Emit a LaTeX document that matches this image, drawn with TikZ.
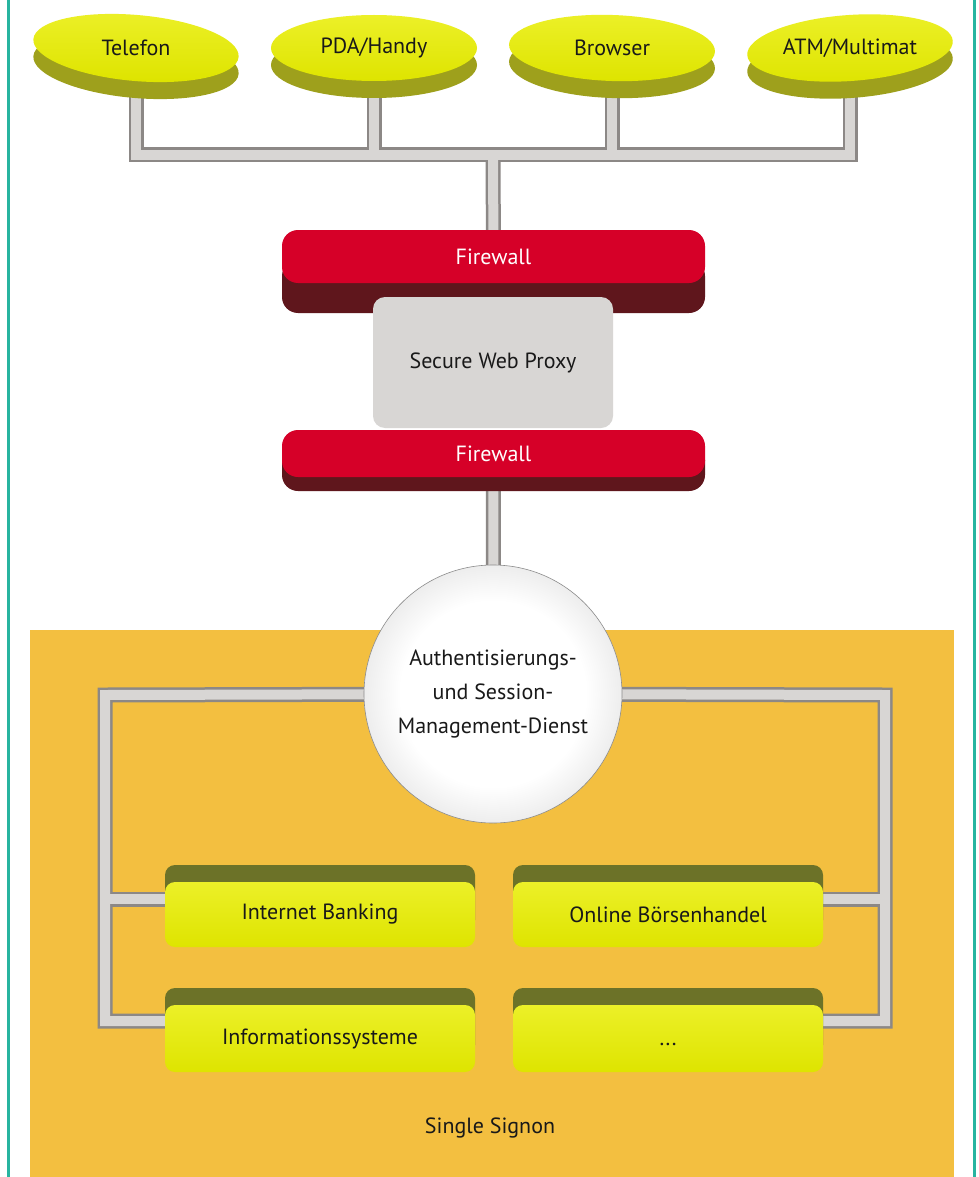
\documentclass[tikz,border=0pt]{standalone}
\usepackage{fontspec}
\setmainfont{PT Sans}
\usetikzlibrary{shapes.geometric,shadows}
\definecolor{teal1}{RGB}{40,180,160}
\definecolor{orangebg}{RGB}{243,191,64}
\definecolor{yel}{RGB}{222,228,0}
\definecolor{yelhi}{RGB}{236,240,40}
\definecolor{olive1}{RGB}{158,160,28}
\definecolor{olive2}{RGB}{108,114,40}
\definecolor{fwred}{RGB}{214,0,40}
\definecolor{fwdark}{RGB}{95,22,28}
\definecolor{proxyg}{RGB}{216,214,212}
\definecolor{pipedark}{RGB}{140,136,134}
\definecolor{pipelight}{RGB}{216,214,212}
\definecolor{txt}{RGB}{25,25,25}
\pgfdeclareradialshading{spheresh}{\pgfpoint{0bp}{0bp}}{color(0bp)=(white); color(18bp)=(white); color(40bp)=(black!22); color(50bp)=(black!50)}
\pgfdeclarelayer{bg}
\pgfdeclarelayer{pipes}
\pgfsetlayers{bg,pipes,main}
\tikzset{
  lbl/.style={text=txt, font=\fontsize{22}{34}\selectfont},
  device/.style={ellipse, minimum width=206, minimum height=66, inner sep=0,
    top color=yelhi, bottom color=yel,
    general shadow={fill=olive1, shadow yshift=-17pt}},
  fwall/.style={rectangle, rounded corners=16, minimum width=423, inner sep=0,
    fill=fwred, text=white, font=\fontsize{22}{34}\selectfont},
  proxybox/.style={rectangle, rounded corners=12, minimum width=240, minimum height=131,
    fill=proxyg, lbl},
  sphere/.style={circle, minimum size=258, inner sep=0, shading=spheresh,
    draw=black!45, line width=0.6pt, align=center, lbl},
  app/.style={rectangle, rounded corners=10, minimum width=310, inner sep=0,
    top color=yelhi, bottom color=yel, lbl,
    general shadow={fill=olive2, shadow yshift=17pt, xscale=0.985}},
}
\begin{document}
\begin{tikzpicture}[x=1pt,y=-1pt]
\useasboundingbox (0,0) rectangle (978,1177);
\begin{pgfonlayer}{bg}
  \fill[white] (0,0) rectangle (978,1177);
  \fill[orangebg] (30,630) rectangle (954,1177);
  \draw[teal1, line width=2.5pt] (8.5,0) -- (8.5,1177);
  \draw[teal1, line width=2.5pt] (974.5,0) -- (974.5,1177);
\end{pgfonlayer}

% devices
\node[device, rotate=-5] (tel) at (136,48) {};
\node[lbl] (telt) at (tel) {Telefon};
\node[device] (pda) at (374,48) {};
\node[lbl] (pdat) at (pda) {PDA/Handy};
\node[device, rotate=-2] (brw) at (612,48) {};
\node[lbl] (brwt) at (brw) {Browser};
\node[device, rotate=4] (atm) at (850,48) {};
\node[lbl] (atmt) at (atm) {ATM/Multimat};

% firewalls and proxy
\node[fwall, minimum height=53, general shadow={fill=fwdark, shadow yshift=-30pt, xscale=0.96}] (fw1) at (493.5,256.5) {Firewall};
\node[proxybox] (proxy) at (493,362.5) {Secure Web Proxy};
\node[fwall, minimum height=47, general shadow={fill=fwdark, shadow yshift=-14pt, xscale=0.98}] (fw2) at (493.5,453.5) {Firewall};

% sphere
\node[sphere] (sph) at (493,694) {Authentisierungs-\\und Session-\\Management-Dienst};

% applications
\node[app, minimum height=65] (ib) at (320,914.5) {Internet Banking};
\node[app, minimum height=65] (obh) at (668,914.5) {Online Börsenhandel};
\node[app, minimum height=67] (info) at (320,1038.5) {Informationssysteme};
\node[app, minimum height=67] (more) at (668,1038.5) {\strut...};

\node[lbl] (sso) at (490,1128) {Single Signon};

% pipes
\coordinate (bar) at (493,155);
\coordinate (ll) at (105,695);
\coordinate (lt) at (105,899);
\coordinate (lb) at (105,1021);
\coordinate (rl) at (885,695);
\coordinate (rt) at (885,899);
\coordinate (rb) at (885,1021);
\begin{pgfonlayer}{pipes}
\foreach \w/\c in {15/pipedark,10/pipelight}{
  \draw[line width=\w pt, draw=\c] (tel.center) -- (tel.center |- bar) -- (atm.center |- bar) -- (atm.center);
  \draw[line width=\w pt, draw=\c] (pda.center) -- (pda.center |- bar);
  \draw[line width=\w pt, draw=\c] (brw.center) -- (brw.center |- bar);
  \draw[line width=\w pt, draw=\c] (bar) -- (fw1.center);
  \draw[line width=\w pt, draw=\c] (fw2.center) -- (sph.center);
  \draw[line width=\w pt, draw=\c] (sph.center) -- (ll) -- (lb) -- (lb -| info.center);
  \draw[line width=\w pt, draw=\c] (lt) -- (lt -| ib.center);
  \draw[line width=\w pt, draw=\c] (sph.center) -- (rl) -- (rb) -- (rb -| more.center);
  \draw[line width=\w pt, draw=\c] (rt) -- (rt -| obh.center);
}
\end{pgfonlayer}
\end{tikzpicture}
\end{document}
